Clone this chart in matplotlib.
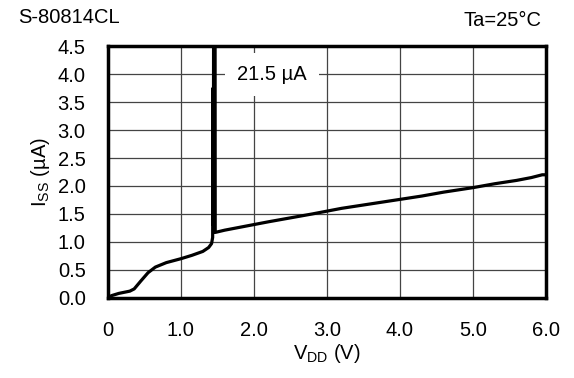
import matplotlib
matplotlib.use("Agg")
import matplotlib.pyplot as plt

plt.rcParams['font.family'] = ['Liberation Sans', 'DejaVu Sans']

# supply current vs supply voltage
vdd = [0.0, 0.05, 0.15, 0.3, 0.36, 0.45, 0.55, 0.65, 0.8, 1.0, 1.15, 1.3, 1.38, 1.42, 1.435,
       1.44, 1.445, 1.46, 1.47, 1.6, 1.8, 2.0, 2.2, 2.5, 2.8, 3.0, 3.2, 3.5, 3.8, 4.0,
       4.3, 4.6, 5.0, 5.3, 5.6, 5.8, 5.95, 6.0]
iss = [0.0, 0.04, 0.08, 0.12, 0.16, 0.3, 0.45, 0.55, 0.63, 0.7, 0.76, 0.83, 0.9, 0.97, 1.08,
       3.75, 1.3, 21.5, 1.17, 1.21, 1.26, 1.31, 1.36, 1.43, 1.5, 1.55, 1.6, 1.66, 1.72, 1.76,
       1.82, 1.89, 1.97, 2.04, 2.1, 2.15, 2.2, 2.2]

xticks = [0, 1, 2, 3, 4, 5, 6]
xlabels = ['0', '1.0', '2.0', '3.0', '4.0', '5.0', '6.0']
yticks = [0, 0.5, 1.0, 1.5, 2.0, 2.5, 3.0, 3.5, 4.0, 4.5]

fs = 14.5

fig = plt.figure(figsize=(5.74, 3.78), dpi=100)
ax = fig.add_axes([0.188, 0.212, 0.763, 0.666])

ax.plot(vdd, iss, color='black', lw=2.3, solid_joinstyle='round', zorder=3)

ax.set_xlim(0, 6)
ax.set_ylim(0, 4.5)
ax.set_xticks(xticks)
ax.set_xticklabels(xlabels)
ax.set_yticks(yticks)
ax.set_yticklabels(['%.1f' % v for v in yticks])
ax.tick_params(length=0, labelsize=fs)
ax.tick_params(axis='x', pad=17)
ax.tick_params(axis='y', pad=16)
ax.grid(True, color='#444444', lw=0.9)
ax.set_axisbelow(True)
for s in ax.spines.values():
    s.set_linewidth(2.5)

ax.text(2.25, 4.0, '21.5 µA', fontsize=fs, ha='center', va='center', zorder=2,
        bbox=dict(boxstyle='square,pad=0.6', fc='white', ec='none'))

ax.set_xlabel('V$_\\mathregular{DD}$ (V)', fontsize=fs, labelpad=1)
ax.set_ylabel('I$_\\mathregular{SS}$ (µA)', fontsize=fs, labelpad=4)

fig.text(0.031, 0.953, 'S-80814CL', fontsize=fs, va='center', ha='left')
fig.text(0.943, 0.946, 'Ta=25°C', fontsize=fs, va='center', ha='right')

fig.savefig('out.png', dpi=100)
